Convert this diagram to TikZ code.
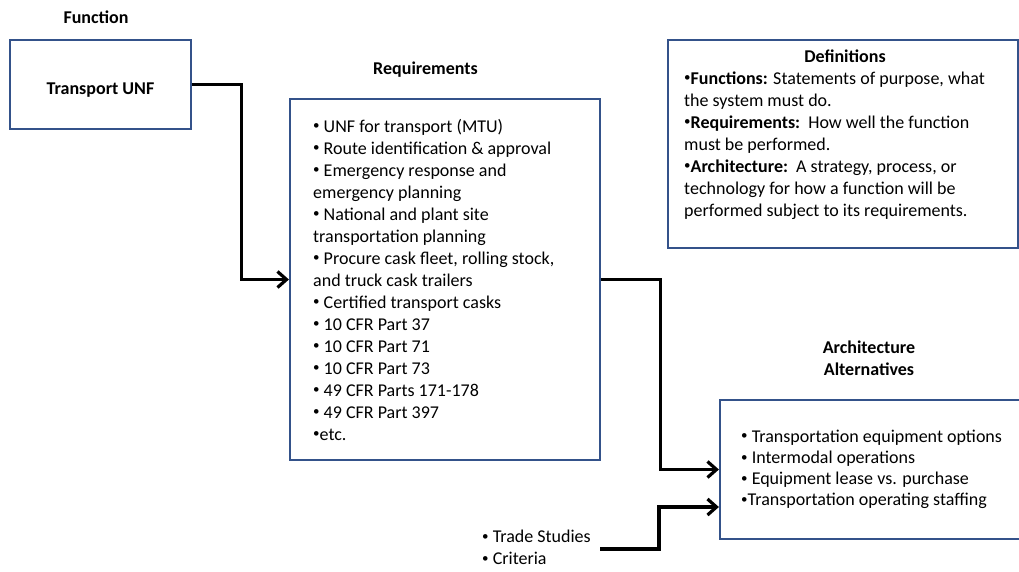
\documentclass[tikz,border=0pt]{standalone}
\usepackage{fontspec}
\setmainfont{Carlito}
\usetikzlibrary{arrows.meta}
\definecolor{boxblue}{RGB}{52,82,138}
% rows of text with a fixed pitch; baseline of the block is the first row
\newcommand{\txtrows}[1]{\begin{tabular}[t]{@{}l@{}}#1\end{tabular}}
% small list bullet
\newcommand{\bul}{\raisebox{0.25ex}{\fontsize{13}{13}\selectfont •}}
\begin{document}
\begin{tikzpicture}[x=1pt,y=-1pt,
  panel/.style={draw=boxblue,line width=2.2pt,fill=white,inner sep=0pt},
  label/.style={font=\fontsize{18}{22}\selectfont\bfseries,inner sep=0pt,anchor=base},
  body/.style={font=\fontsize{18}{22}\selectfont,inner sep=0pt,anchor=base west},
  link/.style={line width=3.2pt,-{Straight Barb[length=9pt,width=16pt]}}]
\useasboundingbox[fill=white] (0,0) rectangle (1019,571);

% boxes
\node[panel,minimum width=181pt,minimum height=89pt] (fun) at (100.5,84.5) {};
\node[panel,minimum width=310pt,minimum height=361pt] (req) at (445,279.5) {};
\node[panel,minimum width=350pt,minimum height=208pt] (defs) at (843,144) {};
\node[panel,minimum width=304pt,minimum height=139pt] (arch) at (872,469.5) {};

% headings
\node[label] (funhead) at (96,23) {Function};
\node[label] (reqhead) at (425.5,74) {Requirements};
\node[label] (funname) at (100.5,94) {Transport UNF};
\node[label,align=center] (archhead) at (869,353)
  {\txtrows{\hfil Architecture\hfil\\ \hfil Alternatives\hfil}};

% requirements list
\node[body] (reqlist) at (313,132) {\txtrows{%
\bul\ UNF for transport (MTU)\\
\bul\ Route identification \& approval\\
\bul\ Emergency response and\\
emergency planning\\
\bul\ National and plant site\\
transportation planning\\
\bul\ Procure cask fleet, rolling stock,\\
and truck cask trailers\\
\bul\ Certified transport casks\\
\bul\ 10 CFR Part 37\\
\bul\ 10 CFR Part 71\\
\bul\ 10 CFR Part 73\\
\bul\ 49 CFR Parts 171-178\\
\bul\ 49 CFR Part 397\\
\bul etc.}};

% definitions
\node[label] (defhead) at (845,62) {Definitions};
\node[body] (deflist) at (684,84) {\txtrows{%
\bul\textbf{Functions:} Statements of purpose, what\\
the system must do.\\
\bul\textbf{Requirements:}\ \ How well the function\\
must be performed.\\
\bul\textbf{Architecture:}\ \ A strategy, process, or\\
technology for how a function will be\\
performed subject to its requirements.}};

% architecture alternatives
\node[body,font=\fontsize{18}{21.3}\selectfont] (archlist) at (741,442) {\txtrows{%
\bul\ Transportation equipment options\\
\bul\ Intermodal operations\\
\bul\ Equipment lease vs. purchase\\
\bul Transportation operating staffing}};

% trade studies
\node[body,anchor=west] (trade) at (482,549) {\txtrows{%
\bul\ Trade Studies\\
\bul\ Criteria}};
\coordinate (tradeend) at (600,549);
\coordinate (archin) at ([yshift=-37.5pt]arch.west);

% connectors
\draw[link] (fun.east) -- ++(49,0) |- (req.west);
\draw[link] (req.east) -- ++(59,0) |- (arch.west);
\draw[link] (tradeend) -- ++(59,0) |- (archin);
\end{tikzpicture}
\end{document}
